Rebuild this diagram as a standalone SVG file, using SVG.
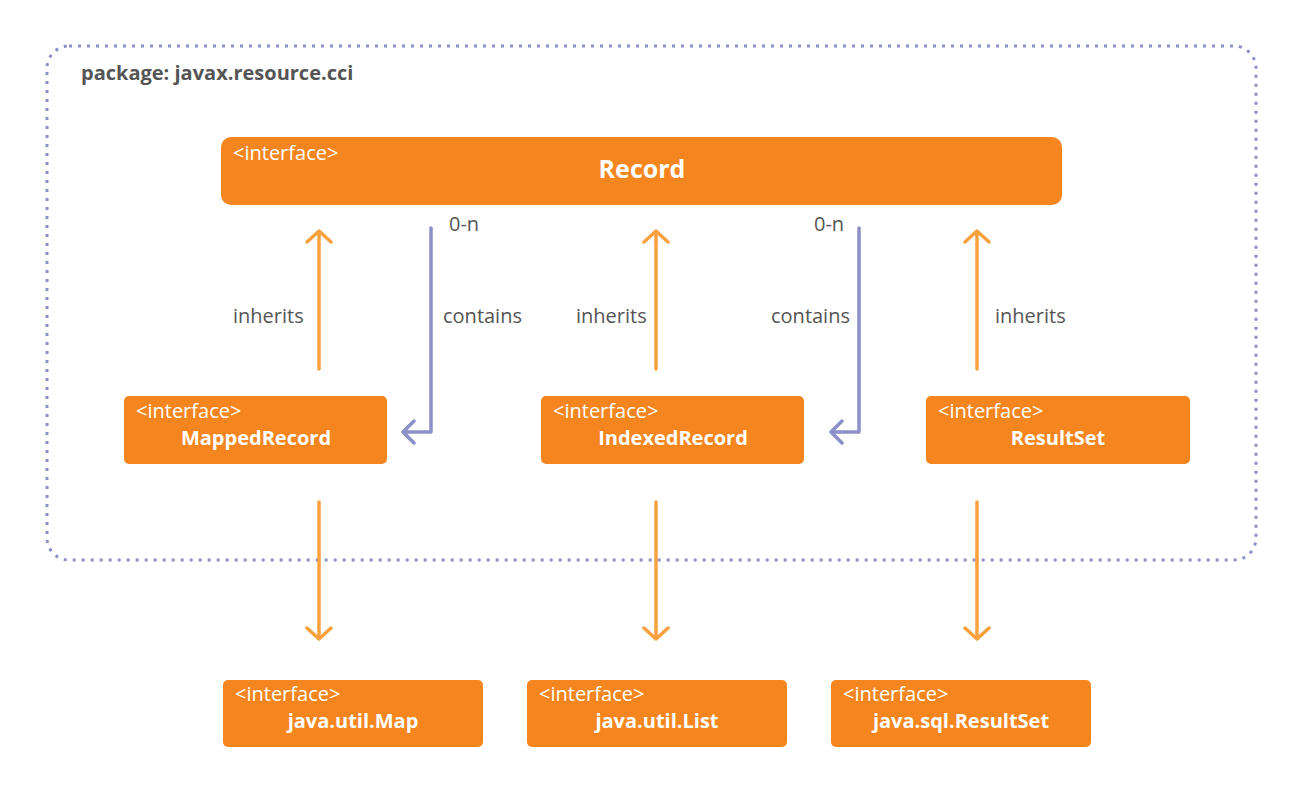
<svg xmlns="http://www.w3.org/2000/svg" width="1315" height="811" viewBox="0 0 1315 811">
<style>
.box{fill:#f5861f;}
.st{font-family:"Open Sans","Noto Sans",sans-serif;font-size:20px;fill:#ffffff;}
.tt{font-family:"Open Sans","Noto Sans",sans-serif;font-size:20px;font-weight:bold;fill:#ffffff;text-anchor:middle;}
.lbl{font-family:"Open Sans","Noto Sans",sans-serif;font-size:20px;fill:#555555;}
.inh{stroke:#f9a03f;stroke-width:3.5;fill:none;stroke-linecap:round;stroke-linejoin:round;}
.con{stroke:#8c8fc8;stroke-width:3.5;fill:none;stroke-linecap:round;stroke-linejoin:round;}
</style>
<rect width="1315" height="811" fill="#ffffff"/>
<g id="package">
<rect x="47" y="46" width="1209" height="514" rx="22" fill="none" stroke="#8c8fc8" stroke-width="3" stroke-dasharray="3 6"/>
<text x="81" y="80" font-family="'Open Sans','Noto Sans',sans-serif" font-size="20" font-weight="bold" fill="#555555">package: javax.resource.cci</text>
</g>
<g id="Record">
<rect class="box" x="221" y="137" width="841" height="68" rx="10"/>
<text class="st" x="233" y="160">&lt;interface&gt;</text>
<text class="tt" x="642" y="178" style="font-size:25px">Record</text>
</g>
<g id="MappedRecord">
<rect class="box" x="124" y="396" width="263" height="68" rx="5"/>
<text class="st" x="136" y="418">&lt;interface&gt;</text>
<text class="tt" x="256" y="445">MappedRecord</text>
</g>
<g id="IndexedRecord">
<rect class="box" x="541" y="396" width="263" height="68" rx="5"/>
<text class="st" x="553" y="418">&lt;interface&gt;</text>
<text class="tt" x="673" y="445">IndexedRecord</text>
</g>
<g id="ResultSet">
<rect class="box" x="926" y="396" width="264" height="68" rx="5"/>
<text class="st" x="938" y="418">&lt;interface&gt;</text>
<text class="tt" x="1058" y="445">ResultSet</text>
</g>
<g id="JavaUtilMap">
<rect class="box" x="223" y="680" width="260" height="67" rx="5"/>
<text class="st" x="235" y="701">&lt;interface&gt;</text>
<text class="tt" x="353" y="728">java.util.Map</text>
</g>
<g id="JavaUtilList">
<rect class="box" x="527" y="680" width="260" height="67" rx="5"/>
<text class="st" x="539" y="701">&lt;interface&gt;</text>
<text class="tt" x="657" y="728">java.util.List</text>
</g>
<g id="JavaSqlResultSet">
<rect class="box" x="831" y="680" width="260" height="67" rx="5"/>
<text class="st" x="843" y="701">&lt;interface&gt;</text>
<text class="tt" x="961" y="728">java.sql.ResultSet</text>
</g>
<g id="connectors">
<path class="inh" d="M319 369V231M307 242L319 231L331 242"/>
<path class="inh" d="M656 369V231M644 242L656 231L668 242"/>
<path class="inh" d="M977 369V231M965 242L977 231L989 242"/>
<path class="con" d="M431 228V432H403M414 421L403 432L414 443"/>
<path class="con" d="M859 228V432H831M842 421L831 432L842 443"/>
<path class="inh" d="M319 502V639M307 628L319 639L331 628"/>
<path class="inh" d="M656 502V639M644 628L656 639L668 628"/>
<path class="inh" d="M977 502V639M965 628L977 639L989 628"/>
<text class="lbl" x="233" y="323">inherits</text>
<text class="lbl" x="576" y="323">inherits</text>
<text class="lbl" x="995" y="323">inherits</text>
<text class="lbl" x="443" y="323">contains</text>
<text class="lbl" x="771" y="323">contains</text>
<text class="lbl" x="449" y="231">0-n</text>
<text class="lbl" x="814" y="231">0-n</text>
</g>
</svg>
